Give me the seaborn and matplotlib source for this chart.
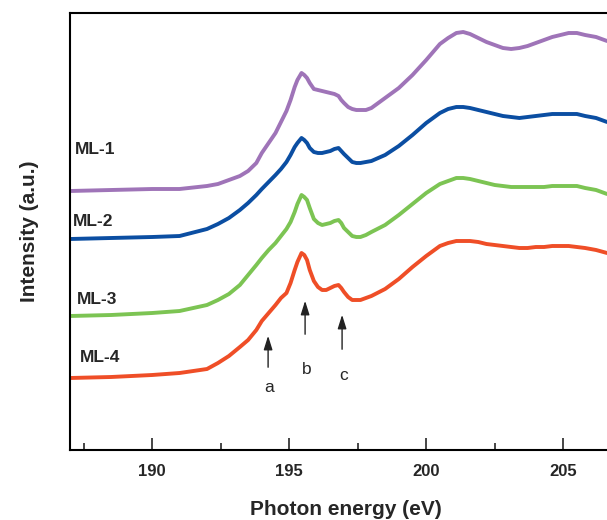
import seaborn as sns
import matplotlib.pyplot as plt
import pandas as pd

# photon energy grid (eV)
energy = [187.0, 188.5, 190.0, 191.0, 192.0, 192.4, 192.8, 193.2, 193.5, 193.8,
          194.0, 194.25, 194.5, 194.7, 194.9, 195.05, 195.2, 195.3, 195.45, 195.55,
          195.65, 195.75, 195.9, 196.05, 196.2, 196.35, 196.5, 196.65, 196.8, 196.9,
          197.0, 197.15, 197.3, 197.45, 197.6, 197.8, 198.0, 198.5, 199.0, 199.5,
          200.0, 200.5, 200.8, 201.1, 201.35, 201.6, 201.9, 202.2, 202.5, 202.8,
          203.1, 203.4, 203.7, 204.0, 204.3, 204.6, 204.9, 205.2, 205.5, 205.8,
          206.2, 206.6]

# stacked intensities (a.u.), vertical offsets included
ml1 = [259, 260, 261, 261, 264, 266, 270, 274, 279, 287,
       297, 307, 317, 328, 339, 350, 363, 370, 377, 375,
       372, 367, 361, 360, 359, 358, 357, 356, 354, 350,
       347, 343, 341, 340, 340, 340, 342, 352, 362, 375,
       390, 406, 412, 417, 418, 416, 412, 408, 405, 402,
       401, 402, 404, 407, 410, 413, 415, 417, 417, 415,
       413, 409]
ml2 = [211, 212, 213, 214, 221, 226, 232, 240, 247, 255,
       261, 268, 275, 281, 288, 295, 303, 307, 312, 310,
       307, 302, 298, 297, 297, 298, 299, 301, 302, 299,
       296, 292, 288, 287, 287, 288, 289, 295, 304, 315,
       327, 337, 341, 343, 343, 342, 340, 338, 336, 334,
       333, 332, 333, 334, 335, 336, 336, 336, 336, 334,
       332, 328]
ml3 = [134, 135, 137, 139, 145, 150, 156, 165, 175, 185,
       192, 200, 207, 214, 221, 228, 238, 246, 255, 253,
       250, 242, 231, 227, 225, 226, 227, 229, 230, 227,
       222, 218, 214, 213, 213, 215, 218, 225, 235, 246,
       257, 266, 269, 272, 272, 271, 269, 267, 265, 264,
       263, 263, 263, 263, 263, 264, 264, 264, 264, 262,
       260, 256]
ml4 = [72, 73, 75, 77, 81, 87, 94, 103, 110, 120,
       129, 137, 145, 152, 157, 167, 180, 188, 197, 195,
       190, 180, 169, 163, 160, 160, 162, 164, 165, 162,
       158, 153, 150, 150, 150, 152, 154, 161, 171, 183,
       194, 204, 207, 209, 209, 209, 208, 206, 205, 204,
       203, 202, 202, 203, 203, 204, 204, 204, 203, 202,
       200, 197]

samples = ["ML-1", "ML-2", "ML-3", "ML-4"]
colors = ["#9f74b8", "#0b4ea2", "#7cc453", "#ef4e27"]
label_y = [300, 228, 150, 93]
label_x = [187.18, 187.11, 187.26, 187.36]

# arrows a, b, c: x position, tail y, head y, letter y
peaks = ["a", "b", "c"]
peak_x = [194.23, 195.58, 196.93]
peak_tail = [80, 113, 98]
peak_head = [117, 152, 138]
peak_text_y = [63, 81, 74]

df = pd.DataFrame({
    "energy": energy * 4,
    "intensity": ml1 + ml2 + ml3 + ml4,
    "sample": [s for s in samples for _ in energy],
})

sns.set_style("ticks")
plt.rcParams["font.family"] = ["Liberation Sans", "DejaVu Sans"]

fig = plt.figure(figsize=(6.07, 5.2), dpi=100)
# axes runs past the right edge, like the cropped original
ax = fig.add_axes([70 / 607, 70 / 520, 561.7 / 607, 437 / 520])

sns.lineplot(data=df, x="energy", y="intensity", hue="sample",
             palette=colors, linewidth=2.8, legend=False, ax=ax)

for name, lx, ly in zip(samples, label_x, label_y):
    ax.text(lx, ly, name, fontsize=12.5, fontweight="bold", ha="left", va="center")

for p, px, t, h, ty in zip(peaks, peak_x, peak_tail, peak_head, peak_text_y):
    ax.annotate("", xy=(px, h), xytext=(px, t),
                arrowprops=dict(arrowstyle="-|>,head_length=0.7,head_width=0.22",
                                color="#222222", lw=1, mutation_scale=12))
    ax.text(px + 0.05, ty, p, fontsize=12.5, ha="center", va="center")

ax.set_xlim(187.0, 207.5)
ax.set_ylim(0, 437)
ax.set_xticks([190, 195, 200, 205])
ax.set_xticks([187.5, 192.5, 197.5, 202.5], minor=True)
ax.set_yticks([])
ax.tick_params(axis="x", which="major", direction="in", length=8.5, width=1.2,
               labelsize=12, pad=10)
ax.tick_params(axis="x", which="minor", direction="in", length=5, width=1.2)
for s in ax.spines.values():
    s.set_linewidth(1.5)
    s.set_color("black")
for lab in ax.get_xticklabels():
    lab.set_fontweight("bold")

ax.set_xlabel("Photon energy (eV)", fontsize=15, fontweight="bold")
ax.set_ylabel("Intensity (a.u.)", fontsize=15, fontweight="bold", labelpad=22)
ax.xaxis.set_label_coords(0.491, -0.115)

fig.savefig("out.png", dpi=100)
